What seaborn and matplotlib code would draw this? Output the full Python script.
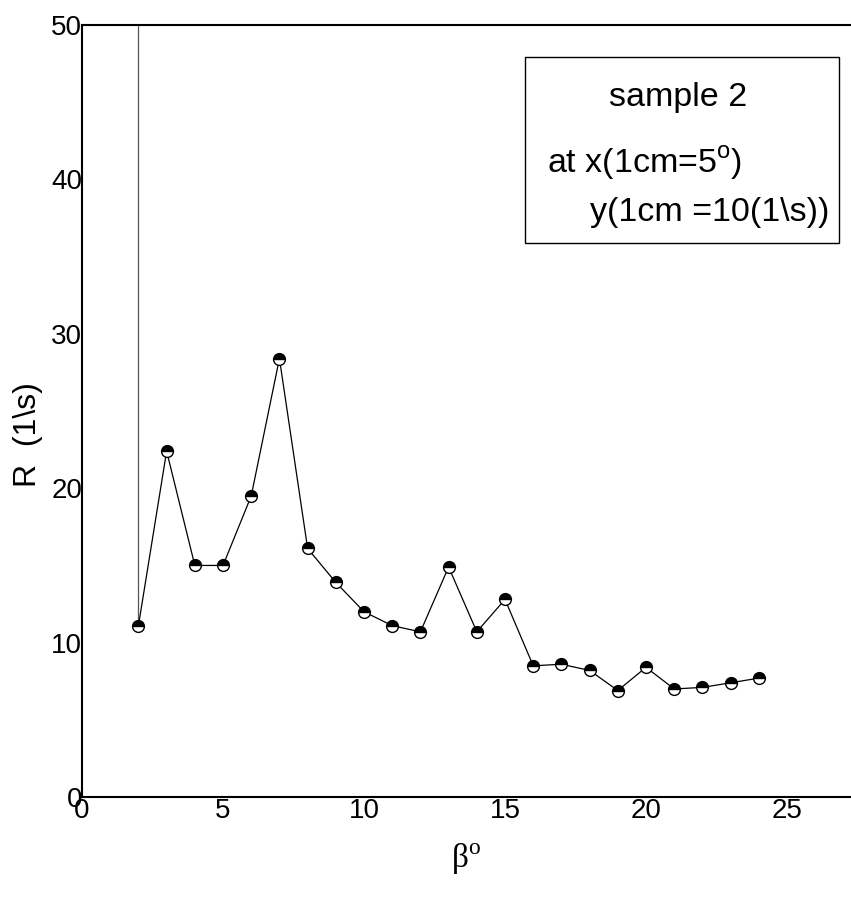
import numpy as np
import pandas as pd
import matplotlib
matplotlib.use("Agg")
import matplotlib.pyplot as plt
import seaborn as sns
from matplotlib.patches import Rectangle

# valores
beta = [2, 3, 4, 5, 6, 7, 8, 9, 10, 11, 12, 13, 14, 15, 16, 17, 18, 19, 20, 21, 22, 23, 24]
R = [11.1, 22.4, 15.0, 15.0, 19.5, 28.4, 16.1, 13.9, 12.0, 11.1, 10.7, 14.9, 10.7, 12.8,
     8.5, 8.6, 8.2, 6.9, 8.4, 7.0, 7.1, 7.4, 7.7]
x_ticks = [0, 5, 10, 15, 20, 25]
y_ticks = [0, 10, 20, 30, 40, 50]

df = pd.DataFrame({"beta": beta, "R": R})

sns.set_style("white")
plt.rcParams["font.family"] = ["Liberation Sans", "DejaVu Sans"]
plt.rcParams["text.color"] = "black"
plt.rcParams["axes.labelcolor"] = "black"
plt.rcParams["xtick.color"] = "black"
plt.rcParams["ytick.color"] = "black"

fig = plt.figure(figsize=(8.51, 9), dpi=100)
ax = fig.add_axes([0.0964, 0.1144, 0.9036, 0.8578])

# linha vertical no primeiro ponto ate o topo
ax.vlines(df["beta"].iloc[0], df["R"].iloc[0], 52, color="#555555", lw=0.9, zorder=1)

sns.lineplot(data=df, x="beta", y="R", ax=ax, color="black", lw=0.9,
             marker="o", markersize=8.5, fillstyle="top",
             markerfacecolor="black", markerfacecoloralt="white",
             markeredgecolor="black", markeredgewidth=1.0, zorder=3)

ax.set_xlim(0, 27.27)
ax.set_ylim(0, 50)
ax.set_xticks(x_ticks)
ax.set_xticks(np.arange(0, 28, 1), minor=True)
ax.set_yticks(y_ticks)
ax.set_xticklabels([str(v) for v in x_ticks], fontsize=20)
ax.set_yticklabels([str(v) for v in y_ticks], fontsize=20)
ax.tick_params(axis="x", which="both", direction="in", length=3, width=0.6,
               color="#666666", pad=1)
ax.tick_params(axis="y", which="both", length=0, pad=0)

for s in ["left", "bottom", "top"]:
    ax.spines[s].set_visible(True)
    ax.spines[s].set_color("black")
    ax.spines[s].set_linewidth(1.5)
ax.spines["right"].set_visible(False)

ax.set_xlabel(r"β$^\mathregular{o}$", fontsize=24, family="Liberation Serif", labelpad=12)
ax.set_ylabel("R  (1\\s)", fontsize=23)
ax.yaxis.set_label_coords(-0.051, 0.47)

# caixa de texto
box = Rectangle((0.5766, 0.7176), 0.4074, 0.2409, transform=ax.transAxes,
                fill=False, edgecolor="black", lw=1.0)
ax.add_patch(box)
ax.text(0.775, 0.9067, "sample 2", transform=ax.transAxes, fontsize=24.5,
        ha="center", va="center")
ax.text(0.6047, 0.8212, r"at x(1cm=5$^\mathregular{o}$)", transform=ax.transAxes,
        fontsize=24.5, ha="left", va="center")
ax.text(0.6606, 0.7578, "y(1cm =10(1\\s))", transform=ax.transAxes, fontsize=24.5,
        ha="left", va="center")

plt.savefig("out.png", dpi=100)
